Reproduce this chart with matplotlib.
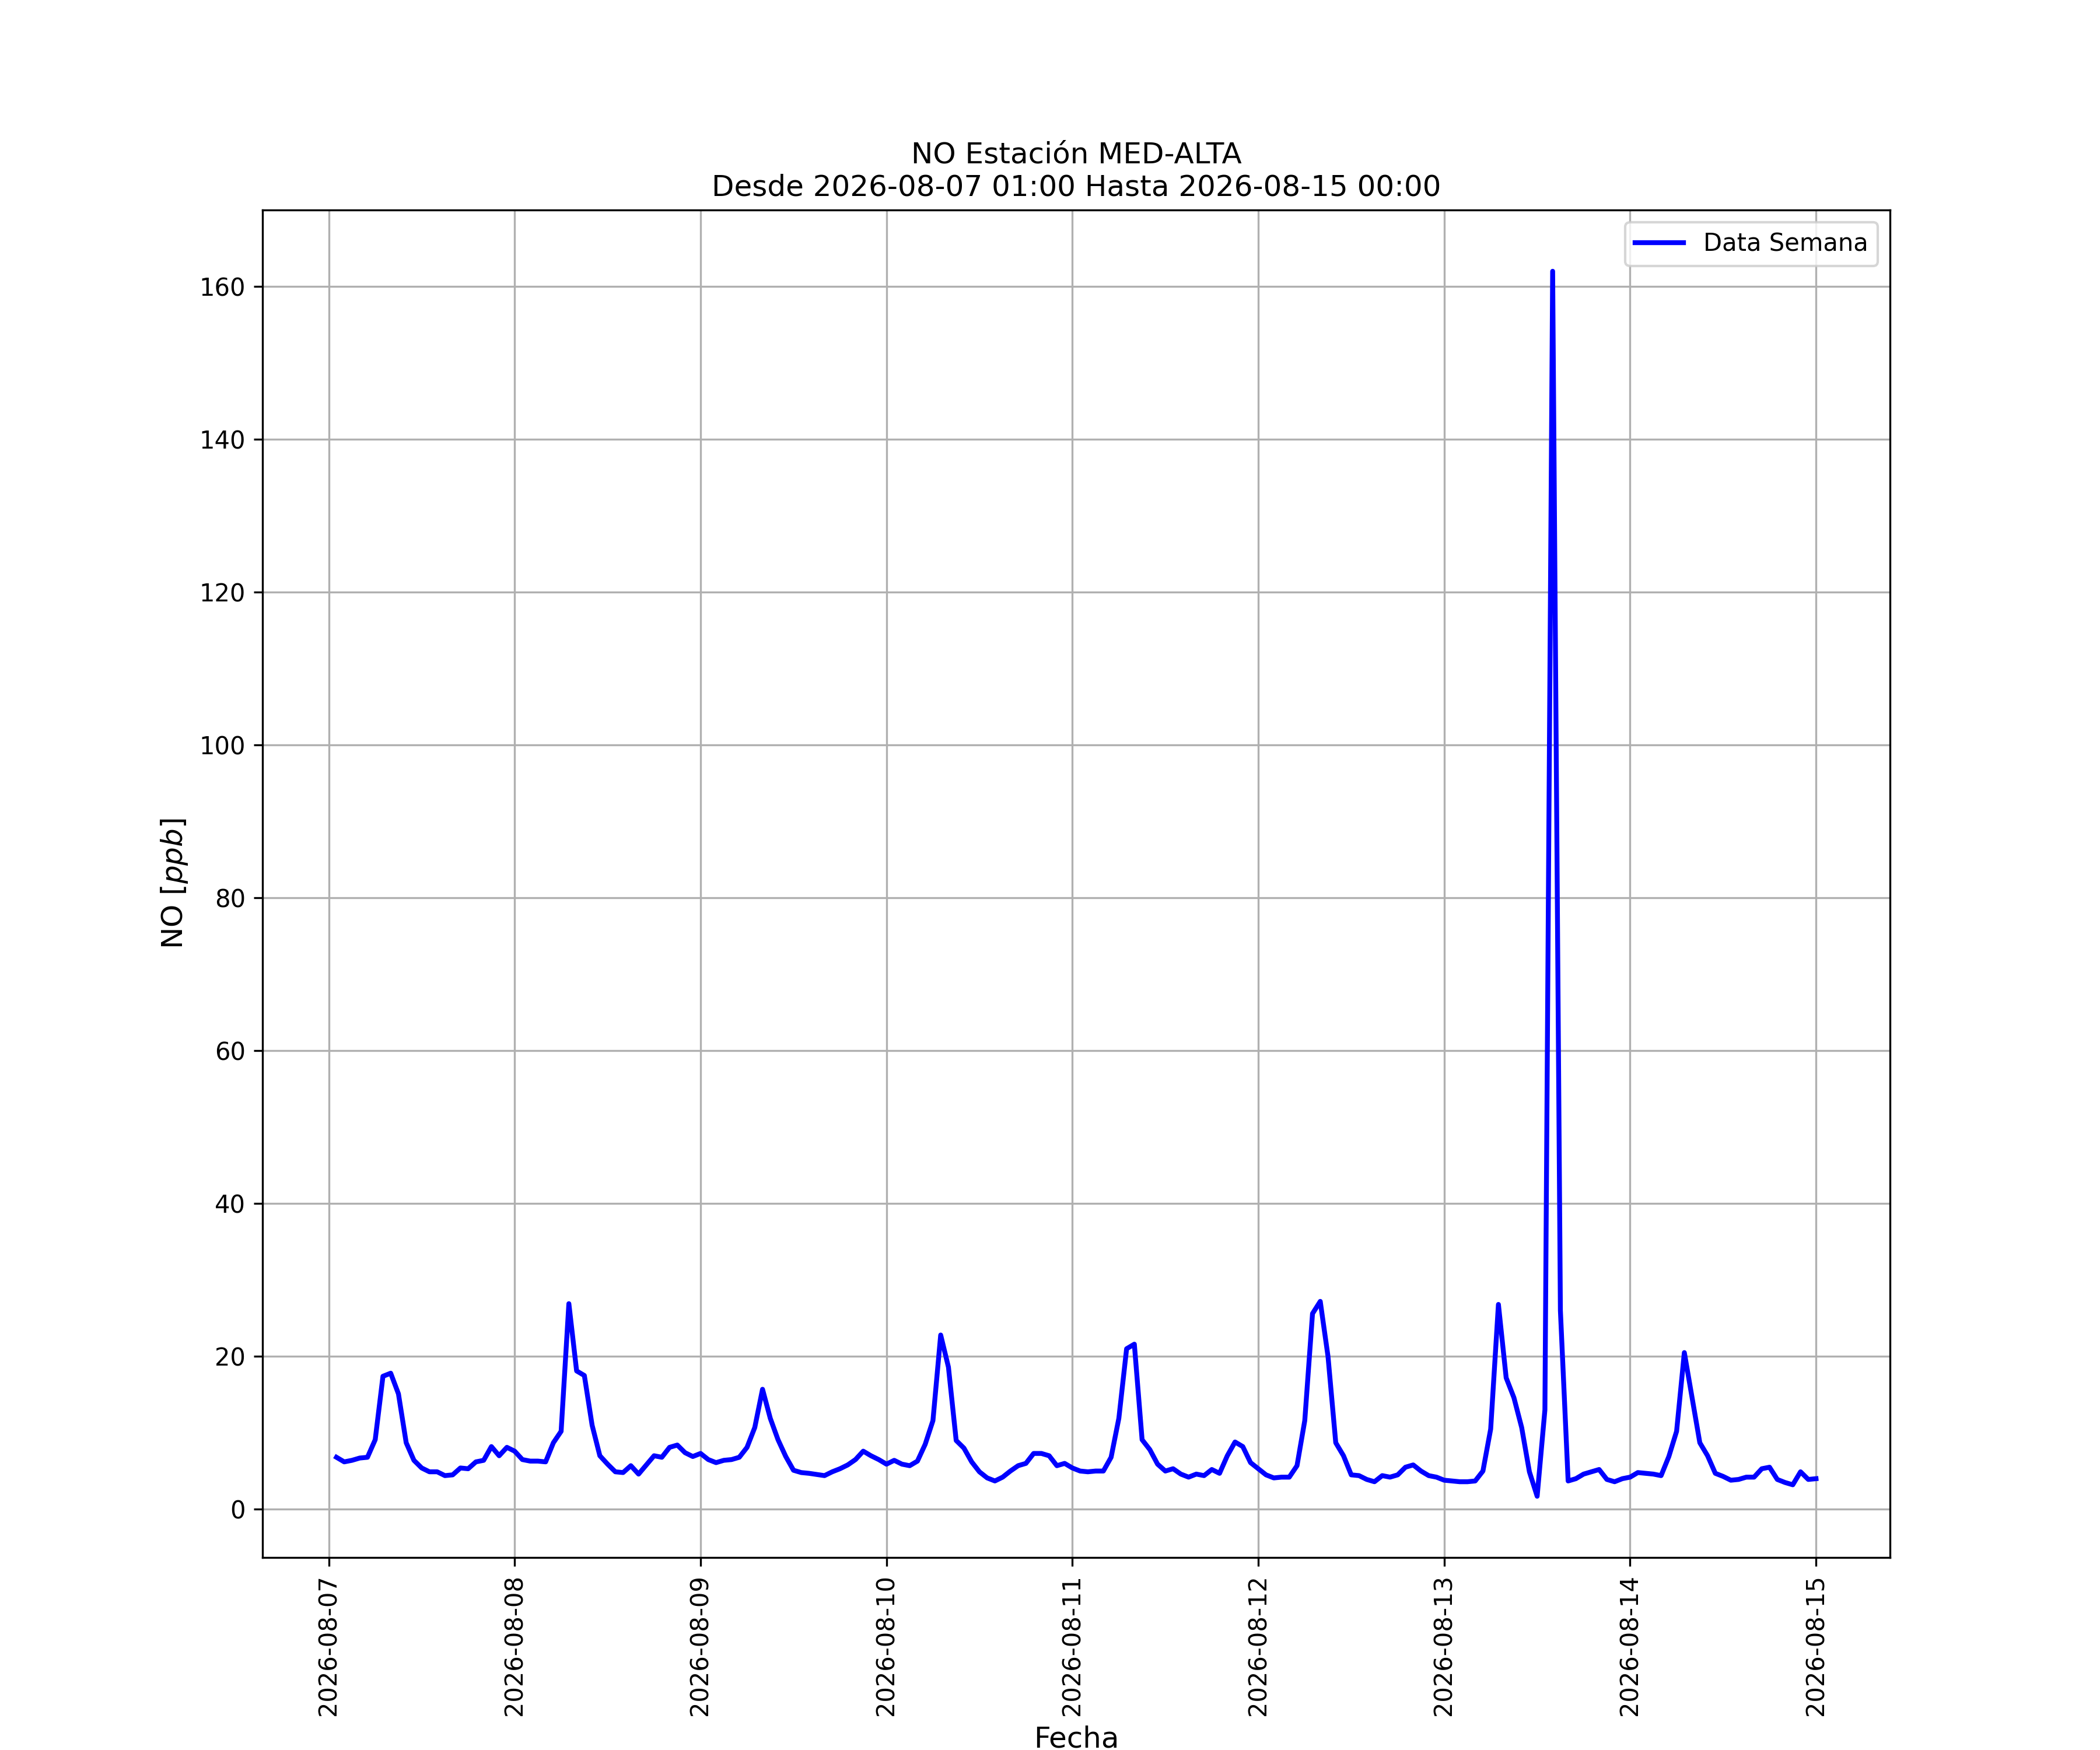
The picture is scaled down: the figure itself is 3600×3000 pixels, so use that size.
import numpy as np
import pandas as pd
import matplotlib
matplotlib.use("Agg")
import matplotlib.pyplot as plt
import matplotlib.dates as mdates

station = "MED-ALTA"
start = "2026-08-07 01:00"
end = "2026-08-15 00:00"

# hourly NO values [ppb], one list per day (hours 01..24)
day_0807 = [6.8, 6.2, 6.4, 6.7, 6.8, 9.1, 17.4, 17.8, 15.1, 8.7, 6.4, 5.4,
            4.9, 4.9, 4.4, 4.5, 5.4, 5.3, 6.2, 6.4, 8.2, 7.0, 8.1, 7.6]
day_0808 = [6.5, 6.3, 6.3, 6.2, 8.7, 10.2, 26.9, 18.1, 17.5, 11.0, 7.0, 5.9,
            4.9, 4.8, 5.7, 4.6, 5.8, 7.0, 6.8, 8.1, 8.4, 7.4, 6.9, 7.3]
day_0809 = [6.5, 6.1, 6.4, 6.5, 6.8, 8.1, 10.7, 15.7, 11.9, 9.1, 6.9, 5.1,
            4.8, 4.7, 4.55, 4.4, 4.9, 5.3, 5.8, 6.5, 7.6, 7.0, 6.5, 5.9]
day_0810 = [6.4, 5.9, 5.7, 6.3, 8.5, 11.6, 22.8, 18.6, 9.0, 8.0, 6.2, 4.9,
            4.1, 3.7, 4.2, 5.0, 5.7, 6.0, 7.3, 7.3, 7.0, 5.7, 6.0, 5.4]
day_0811 = [5.0, 4.9, 5.0, 5.0, 6.8, 11.9, 21.0, 21.6, 9.1, 7.8, 5.9, 5.0,
            5.3, 4.6, 4.2, 4.6, 4.4, 5.2, 4.7, 7.0, 8.8, 8.2, 6.1, 5.3]
day_0812 = [4.5, 4.1, 4.2, 4.2, 5.7, 11.6, 25.6, 27.2, 20.0, 8.7, 7.0, 4.5,
            4.4, 3.9, 3.6, 4.4, 4.2, 4.5, 5.5, 5.8, 5.0, 4.4, 4.2, 3.8]
day_0813 = [3.7, 3.6, 3.6, 3.7, 5.0, 10.5, 26.8, 17.2, 14.6, 10.7, 4.9, 1.7,
            13.0, 162.0, 26.0, 3.7, 4.0, 4.6, 4.9, 5.2, 3.9, 3.6, 4.0, 4.2]
day_0814 = [4.8, 4.7, 4.6, 4.4, 6.9, 10.2, 20.5, 14.6, 8.7, 7.0, 4.7, 4.3,
            3.8, 3.9, 4.2, 4.2, 5.3, 5.5, 3.9, 3.5, 3.2, 4.9, 3.9, 4.0]

no_ppb = np.array(day_0807 + day_0808 + day_0809 + day_0810 +
                  day_0811 + day_0812 + day_0813 + day_0814)
fechas = pd.date_range(start, end, freq="h")

fig = plt.figure(figsize=(12, 10), dpi=300)
ax = fig.add_subplot(111)
fig.subplots_adjust(left=0.125, right=0.9, top=0.88, bottom=0.11)

ax.plot(fechas, no_ppb, color="blue", linewidth=2, label="Data Semana")

ax.xaxis.set_major_locator(mdates.DayLocator())
ax.xaxis.set_major_formatter(mdates.DateFormatter("%Y-%m-%d"))
plt.xticks(rotation=90)
ax.tick_params(labelsize=10)

ax.set_title("NO Estación " + station + "\nDesde " + start + " Hasta " + end,
             fontsize=12)
ax.set_xlabel("Fecha", fontsize=12)
ax.set_ylabel("NO [$ppb$]", fontsize=12)
ax.grid(True)
ax.legend(loc="upper right", fontsize=10)

fig.savefig("out.png", dpi=300)
